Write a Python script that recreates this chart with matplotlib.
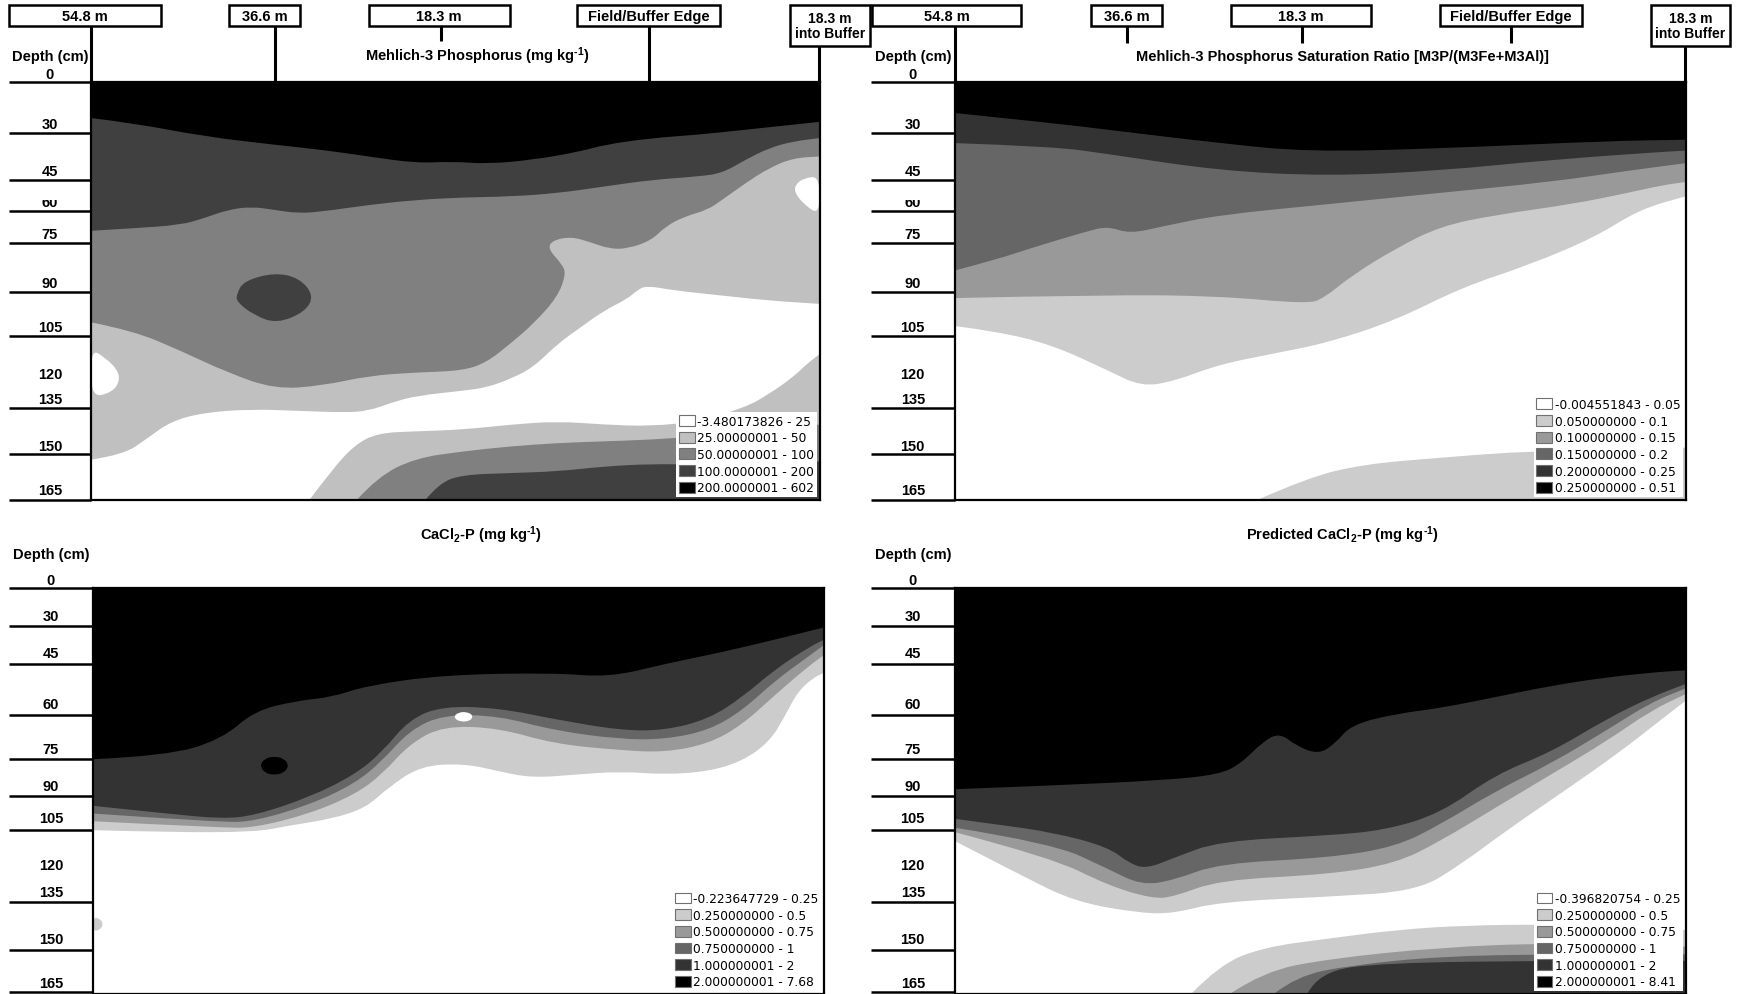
import matplotlib
matplotlib.use('Agg')
import matplotlib.pyplot as plt
from matplotlib.patches import Patch, Rectangle, PathPatch
from matplotlib.path import Path
from matplotlib.transforms import Bbox, TransformedBbox

plt.rcParams['font.family'] = ['Liberation Sans', 'DejaVu Sans']
plt.rcParams['mathtext.fontset'] = 'custom'
plt.rcParams['mathtext.rm'] = 'Liberation Sans:bold'
plt.rcParams['mathtext.default'] = 'rm'

# ---- labels ----
STATIONS = ['54.8 m', '36.6 m', '18.3 m', 'Field/Buffer Edge', '18.3 m\ninto Buffer']
DEPTHS = ['0', '30', '45', '60', '75', '90', '105', '120', '135', '150', '165']

TITLES = ['Mehlich-3 Phosphorus (mg kg$^{\\text{-}1}$)',
          'Mehlich-3 Phosphorus Saturation Ratio [M3P/(M3Fe+M3Al)]',
          'CaCl$_2$-P (mg kg$^{\\text{-}1}$)',
          'Predicted CaCl$_2$-P (mg kg$^{\\text{-}1}$)']

M3P_CLASSES = ['-3.480173826 - 25', '25.00000001 - 50', '50.00000001 - 100',
               '100.0000001 - 200', '200.0000001 - 602']
PSR_CLASSES = ['-0.004551843 - 0.05', '0.050000000 - 0.1', '0.100000000 - 0.15',
               '0.150000000 - 0.2', '0.200000000 - 0.25', '0.250000000 - 0.51']
CACL_CLASSES = ['-0.223647729 - 0.25', '0.250000000 - 0.5', '0.500000000 - 0.75',
                '0.750000000 - 1', '1.000000001 - 2', '2.000000001 - 7.68']
PRED_CLASSES = ['-0.396820754 - 0.25', '0.250000000 - 0.5', '0.500000000 - 0.75',
                '0.750000000 - 1', '1.000000001 - 2', '2.000000001 - 8.41']

GRAY5 = ['#ffffff', '#c0c0c0', '#808080', '#404040', '#000000']
GRAY6 = ['#ffffff', '#cccccc', '#999999', '#666666', '#333333', '#000000']

# ---- class boundaries (x: % along transect, y: % of profile depth) ----
# Mehlich-3 P
M3P_LIGHT = [(0, 90.4), (4.5, 89.2), (7.8, 85.2), (11.0, 81.2), (15.5, 79.1), (22.0, 78.3),
             (28.4, 78.7), (34.9, 79.1), (38.1, 78.7), (41.3, 76.7), (44.6, 75.1), (51.0, 73.9),
             (54.3, 73.1), (57.5, 71.1), (60.7, 68.3), (64.0, 62.7), (67.2, 58.7), (70.4, 54.7),
             (73.6, 51.9), (74.9, 49.9), (76.2, 48.7), (80.1, 49.9), (86.6, 51.1), (93.0, 52.3),
             (100, 53.1)]
M3P_MED = [(0, 57.5), (5.8, 59.5), (12.3, 64.3), (18.7, 69.5), (25.2, 73.5), (31.7, 72.7),
           (38.1, 70.3), (44.6, 69.5), (51.0, 69.1), (54.3, 67.1), (57.5, 62.7), (60.7, 57.9),
           (64.0, 51.5), (65.2, 45.9), (64.6, 43.5), (62.7, 39.9), (63.3, 37.9), (65.9, 37.0),
           (68.5, 38.3), (71.1, 39.9), (73.6, 39.9), (76.9, 37.9), (78.8, 34.6), (81.4, 32.2),
           (84.6, 30.6), (86.6, 28.2), (89.8, 24.2), (93.0, 20.6), (96.3, 18.2), (100, 17.8)]
M3P_DARK = [(0, 35.6), (5.8, 35.0), (12.3, 34.2), (15.5, 32.6), (18.7, 30.6), (22.0, 29.8),
            (25.2, 30.6), (28.4, 31.4), (31.7, 31.0), (38.1, 29.4), (44.6, 28.2), (51.0, 27.6),
            (57.5, 27.4), (64.0, 26.6), (70.4, 25.0), (76.9, 23.4), (83.3, 22.6), (86.6, 21.8),
            (89.8, 18.6), (93.0, 15.8), (96.3, 14.2), (100, 13.4)]
M3P_BLACK = [(0, 8.6), (5.8, 9.8), (15.5, 13.0), (25.2, 15.0), (31.7, 16.2), (38.1, 17.8),
             (44.6, 19.4), (49.7, 19.0), (54.3, 19.6), (60.7, 18.6), (67.2, 16.6), (70.4, 15.0),
             (76.9, 13.4), (83.3, 12.6), (89.8, 11.4), (96.3, 10.2), (100, 9.5)]
M3P_DARK_SPOT = [(20.0, 50.7), (21.0, 47.6), (25.2, 45.6), (28.6, 46.9), (30.6, 51.1),
                 (29.4, 55.0), (25.5, 57.8), (22.4, 55.8), (20.0, 52.6)]
M3P_WHITE_LEFT = [(0, 63.9), (1.9, 65.9), (3.6, 68.7), (4.0, 71.5), (2.9, 74.3), (0, 75.5)]
M3P_WHITE_RIGHT = [(100, 22.6), (97.9, 22.9), (96.6, 24.6), (96.6, 26.6), (97.9, 29.4), (100, 31.8)]
M3P_DEEP_LIGHT = [(30.0, 100), (32.9, 93.2), (36.2, 86.8), (39.4, 84.0), (44.6, 83.6), (51.0, 83.2),
                  (57.5, 82.0), (64.0, 81.2), (70.4, 82.0), (76.9, 82.4), (83.3, 81.2), (89.8, 77.9),
                  (93.0, 74.7), (96.3, 70.7), (98.2, 67.5), (100, 65.1)]
M3P_DEEP_MED = [(36.5, 100), (39.4, 94.4), (44.6, 90.0), (51.0, 88.4), (57.5, 87.2), (64.0, 86.4),
                (70.4, 86.0), (76.9, 85.6), (83.3, 84.8), (89.8, 83.6), (100, 82.0)]
M3P_DEEP_DARK = [(45.9, 100), (47.8, 96.0), (51.0, 94.0), (57.5, 93.6), (64.0, 93.2), (70.4, 92.0),
                 (76.9, 91.4), (83.3, 91.6), (100, 90.8)]

# P saturation ratio
PSR_1 = [(0, 58.4), (5.8, 59.7), (13.3, 62.9), (20.9, 69.0), (25.5, 72.9), (30.0, 71.6), (36.1, 67.6),
         (43.6, 65.0), (51.2, 62.3), (60.3, 57.0), (69.4, 49.1), (78.5, 43.8), (87.6, 37.1),
         (93.6, 30.5), (100, 27.3)]
PSR_2 = [(0, 51.7), (20.9, 50.9), (36.1, 51.2), (48.2, 53.1), (50.5, 51.7), (54.2, 46.4), (60.3, 39.8),
         (66.4, 34.5), (73.9, 31.8), (84.5, 29.2), (92.1, 26.5), (96.7, 24.7), (100, 23.9)]
PSR_3 = [(0, 45.1), (5.8, 42.4), (10.3, 39.8), (17.9, 35.8), (20.9, 34.5), (23.9, 36.3), (28.5, 34.5),
         (36.1, 31.8), (51.2, 29.2), (66.4, 26.5), (81.5, 23.9), (92.1, 21.2), (100, 19.4)]
PSR_4 = [(0, 14.6), (13.3, 15.4), (20.9, 17.2), (36.1, 21.2), (51.2, 22.5), (66.4, 21.2), (81.5, 18.6),
         (96.7, 16.7), (100, 16.4)]
PSR_5 = [(0, 7.4), (13.3, 9.8), (20.9, 11.4), (36.1, 14.6), (48.2, 16.7), (66.4, 15.9), (89.1, 14.1),
         (100, 13.8)]
PSR_DEEP_1 = [(41.4, 100), (48.2, 94.7), (55.8, 91.5), (66.4, 89.9), (78.5, 88.3), (100, 87.5)]

# CaCl2-P
CACL_1 = [(0, 59.6), (10.0, 60.1), (22.1, 60.1), (26.7, 58.5), (32.7, 56.8), (37.3, 54.1), (40.3, 49.2),
          (44.8, 43.7), (50.9, 43.2), (55.5, 45.1), (60.0, 46.7), (66.1, 45.9), (72.1, 45.1),
          (78.2, 45.9), (84.2, 45.1), (88.8, 42.6), (92.6, 37.7), (94.8, 30.9), (96.4, 25.4),
          (98.6, 21.9), (100, 20.8)]
CACL_2 = [(0, 57.4), (17.6, 59.0), (22.1, 59.0), (29.7, 55.5), (35.8, 50.8), (39.5, 45.9), (43.3, 38.3),
          (47.9, 33.9), (55.5, 34.4), (63.0, 38.3), (72.1, 39.9), (78.2, 40.4), (84.2, 38.3),
          (88.8, 33.6), (93.3, 26.2), (97.9, 19.1), (100, 16.4)]
CACL_3 = [(0, 55.5), (17.6, 57.7), (22.1, 57.4), (29.7, 53.3), (35.8, 48.1), (39.5, 42.6), (43.3, 35.0),
          (47.9, 31.1), (55.5, 31.4), (63.0, 35.0), (72.1, 37.2), (78.2, 37.2), (84.2, 35.0),
          (88.8, 30.1), (93.3, 22.7), (97.9, 16.7), (100, 13.9)]
CACL_4 = [(0, 53.6), (10.0, 55.5), (17.6, 56.8), (22.1, 56.0), (29.7, 51.4), (35.8, 45.9), (39.5, 40.4),
          (43.3, 32.2), (47.9, 29.0), (55.5, 29.5), (63.0, 32.2), (72.1, 35.0), (78.2, 35.0),
          (84.2, 32.2), (88.8, 26.8), (93.3, 19.9), (97.9, 14.5), (100, 12.6)]
CACL_5 = [(0, 42.1), (10.0, 41.3), (17.6, 37.2), (22.1, 30.1), (28.2, 27.6), (32.7, 26.8), (37.3, 24.0),
          (47.9, 21.3), (63.0, 20.8), (70.6, 21.9), (78.2, 18.6), (85.8, 15.8), (93.3, 12.6), (100, 9.6)]
CACL_BLACK_SPOT = [(22.8, 43.7), (23.5, 41.9), (24.8, 41.4), (26.1, 41.9), (26.8, 43.7), (26.1, 45.5),
                   (24.8, 46.0), (23.5, 45.5)]
CACL_WHITE_SPOT = [(49.3, 31.7), (49.9, 30.6), (51.1, 30.4), (52.0, 31.3), (51.6, 32.7), (50.1, 32.9)]
CACL_EDGE_SPOT = [(0, 81.0), (1.0, 81.5), (1.4, 82.8), (1.0, 84.1), (0, 84.6)]

# Predicted CaCl2-P
PRED_1 = [(0, 62.3), (8.8, 70.5), (16.4, 77.3), (25.5, 80.1), (30.0, 80.1), (36.1, 77.3), (51.2, 76.0),
          (63.3, 74.6), (69.4, 67.8), (75.5, 59.6), (83.3, 50.0), (90.9, 40.4), (96.7, 32.2), (100, 27.6)]
PRED_2 = [(0, 60.1), (13.3, 66.4), (20.9, 73.2), (27.0, 76.5), (30.0, 76.0), (36.1, 71.9), (51.2, 70.5),
          (60.3, 67.8), (66.4, 62.3), (73.9, 54.1), (81.5, 45.9), (89.1, 37.7), (95.2, 30.1), (100, 26.0)]
PRED_3 = [(0, 59.0), (13.3, 62.8), (20.9, 69.1), (25.5, 73.2), (30.0, 71.9), (36.1, 67.8), (51.2, 66.4),
          (60.3, 63.7), (66.4, 58.2), (73.9, 50.0), (81.5, 43.2), (89.1, 35.0), (95.2, 28.1), (100, 24.6)]
PRED_4 = [(0, 56.8), (5.8, 58.2), (13.3, 60.1), (20.9, 63.7), (23.9, 67.8), (26.2, 69.1), (30.0, 66.4),
          (36.1, 62.3), (51.2, 60.9), (58.8, 59.6), (66.4, 55.5), (73.9, 45.9), (81.5, 40.4),
          (89.1, 32.2), (95.2, 26.8), (100, 23.5)]
PRED_5 = [(0, 49.5), (13.3, 48.6), (28.5, 47.3), (36.1, 45.9), (39.1, 43.2), (42.1, 37.8), (44.4, 35.6),
          (46.7, 38.8), (49.7, 40.9), (52.0, 38.3), (54.2, 33.6), (60.3, 30.9), (66.4, 29.5),
          (73.9, 26.8), (81.5, 24.0), (89.1, 21.9), (96.7, 20.5), (100, 20.2)]
PRED_DEEP_1 = [(32.3, 100), (36.1, 92.9), (42.1, 88.5), (51.2, 86.3), (60.3, 84.2), (69.4, 83.1),
               (81.5, 82.8), (100, 84.2)]
PRED_DEEP_2 = [(37.6, 100), (42.1, 94.5), (51.2, 91.3), (66.4, 88.5), (81.5, 87.4), (100, 88.3)]
PRED_DEEP_3 = [(43.6, 100), (46.7, 95.6), (54.2, 92.9), (66.4, 90.7), (81.5, 90.2), (100, 90.2)]
PRED_DEEP_4 = [(48.2, 100), (49.7, 94.5), (58.8, 92.3), (81.5, 91.8), (100, 91.8)]

# ---- layout (reference pixels, 1568 x 898 frame) ----
W, H = 1568, 898
PANELS = [(82, 75, 740, 452), (862, 75, 1522, 452), (84, 532, 744, 898), (862, 532, 1522, 898)]
TOP_LINES = [75, 121, 163, 191, 220, 264, 304, None, 369, 411, 452]
TOP_LABELS = [68, 113, 155, 183, 212, 256, 296, 338, 361, 403, 443]
BOT_LINES = [532, 566, 600, 646, 686, 719, 750, None, 815, 858, 896]
BOT_LABELS = [524, 557, 590, 636, 677, 710, 739, 782, 806, 848, 888]
# (box left, box right, line x, line bottom) for each station
HEAD_1 = [(8, 145, 82, 75), (207, 271, 248, 75), (333, 460, 398, 38), (521, 650, 586, 75), (713, 785, 739, 75)]
HEAD_2 = [(787, 922, 862, 75), (985, 1049, 1017, 40), (1111, 1238, 1175, 40), (1300, 1428, 1364, 40),
          (1490, 1562, 1521, 75)]


def mid(p, q):
    return ((p[0] + q[0]) / 2, (p[1] + q[1]) / 2)


def curve(pts):
    # smooth open curve through the read points (quadratic bezier between midpoints)
    verts = [pts[0]]
    codes = [Path.LINETO]
    for i in range(1, len(pts) - 1):
        verts += [pts[i], mid(pts[i], pts[i + 1])]
        codes += [Path.CURVE3, Path.CURVE3]
    verts.append(pts[-1])
    codes.append(Path.LINETO)
    return verts, codes


def region(ax, pts, color, edge_y, z):
    v, c = curve(pts)
    verts = [(pts[0][0], edge_y)] + v + [(pts[-1][0], edge_y), (pts[0][0], edge_y)]
    codes = [Path.MOVETO] + c + [Path.LINETO, Path.CLOSEPOLY]
    ax.add_patch(PathPatch(Path(verts, codes), facecolor=color, lw=0, zorder=z))


def from_top(ax, pts, color):
    region(ax, pts, color, 0, 2)


def from_bottom(ax, pts, color):
    region(ax, pts, color, 100, 3)


def spot(ax, pts, color):
    n = len(pts)
    m = [mid(pts[i], pts[(i + 1) % n]) for i in range(n)]
    verts = [m[-1]]
    codes = [Path.MOVETO]
    for i in range(n):
        verts += [pts[i], m[i]]
        codes += [Path.CURVE3, Path.CURVE3]
    verts.append(m[-1])
    codes.append(Path.CLOSEPOLY)
    ax.add_patch(PathPatch(Path(verts, codes), facecolor=color, lw=0, zorder=3))


fig = plt.figure(figsize=(17.37, 9.95), dpi=100)
axes = []
for (l, t, r, b) in PANELS:
    ax = fig.add_axes([l / W, 1 - b / H, (r - l) / W, (b - t) / H])
    ax.set_xlim(0, 100)
    ax.set_ylim(100, 0)
    ax.set_xticks([])
    ax.set_yticks([])
    for s in ax.spines.values():
        s.set_linewidth(1.6)
        s.set_zorder(12)
    axes.append(ax)

a1, a2, a3, a4 = axes

# panel 1
from_top(a1, M3P_LIGHT, GRAY5[1])
from_top(a1, M3P_MED, GRAY5[2])
from_top(a1, M3P_DARK, GRAY5[3])
from_top(a1, M3P_BLACK, GRAY5[4])
spot(a1, M3P_DARK_SPOT, GRAY5[3])
spot(a1, M3P_WHITE_LEFT, GRAY5[0])
spot(a1, M3P_WHITE_RIGHT, GRAY5[0])
from_bottom(a1, M3P_DEEP_LIGHT, GRAY5[1])
from_bottom(a1, M3P_DEEP_MED, GRAY5[2])
from_bottom(a1, M3P_DEEP_DARK, GRAY5[3])

# panel 2
for pts, c in zip([PSR_1, PSR_2, PSR_3, PSR_4, PSR_5], GRAY6[1:]):
    from_top(a2, pts, c)
from_bottom(a2, PSR_DEEP_1, GRAY6[1])

# panel 3
for pts, c in zip([CACL_1, CACL_2, CACL_3, CACL_4, CACL_5], GRAY6[1:]):
    from_top(a3, pts, c)
spot(a3, CACL_BLACK_SPOT, GRAY6[5])
spot(a3, CACL_WHITE_SPOT, GRAY6[0])
spot(a3, CACL_EDGE_SPOT, GRAY6[1])

# panel 4
for pts, c in zip([PRED_1, PRED_2, PRED_3, PRED_4, PRED_5], GRAY6[1:]):
    from_top(a4, pts, c)
for pts, c in zip([PRED_DEEP_1, PRED_DEEP_2, PRED_DEEP_3, PRED_DEEP_4], GRAY6[1:5]):
    from_bottom(a4, pts, c)

# legends
for ax, classes, colors in [(a1, M3P_CLASSES, GRAY5), (a2, PSR_CLASSES, GRAY6),
                            (a3, CACL_CLASSES, GRAY6), (a4, PRED_CLASSES, GRAY6)]:
    handles = [Patch(facecolor=c, edgecolor='#707070', lw=0.8) for c in colors]
    leg = ax.legend(handles, classes, loc='lower right', prop={'family': 'DejaVu Sans', 'size': 8.8},
                    frameon=True, fancybox=False, framealpha=1, edgecolor='white',
                    borderpad=0.2, labelspacing=0.3, handlelength=1.3, handleheight=1.0,
                    handletextpad=0.2, borderaxespad=0.25)
    leg.set_zorder(10)
    leg.get_frame().set_linewidth(0)

# overlay for header, depth scale and titles
ov = fig.add_axes([0, 0, 1, 1])
ov.set_xlim(0, W)
ov.set_ylim(H, 0)
ov.axis('off')
ov.patch.set_alpha(0)

bold = dict(fontweight='bold', ha='center', va='center', color='black')

for head in (HEAD_1, HEAD_2):
    for label, (bl, br, lx, lb) in zip(STATIONS, head):
        bb = 42 if '\n' in label else 24
        ov.add_patch(Rectangle((bl, 5), br - bl, bb - 5, fill=False, lw=1.8, ec='black'))
        ov.plot([lx, lx], [bb, lb], color='black', lw=2.2, solid_capstyle='butt')
        ov.text((bl + br) / 2, (5 + bb) / 2 + 0.5, label, linespacing=1.05,
                fontsize=10 if '\n' in label else 10.5, **bold)

for (l, t, r, b), lines, labs, title in zip(PANELS, [TOP_LINES, TOP_LINES, BOT_LINES, BOT_LINES],
                                            [TOP_LABELS, TOP_LABELS, BOT_LABELS, BOT_LABELS], TITLES):
    xl = l - 76 if l > 400 else 8
    xc = (xl + l) / 2
    for d, ly, ty in zip(DEPTHS, lines, labs):
        if ly is not None:
            ov.plot([xl, l], [ly, ly], color='black', lw=1.8, solid_capstyle='butt')
        txt = ov.text(xc, ty, d, fontsize=10.5, **bold)
        if d == '60' and t < 100:
            # the upper part of this label is hidden in the original figure
            txt.set_clip_box(TransformedBbox(Bbox([[xl, ty - 2], [l, ty + 10]]), ov.transData))
            txt.set_clip_on(True)
    ov.text(xc, 51 if t < 100 else 501, 'Depth (cm)', fontsize=10.5, **bold)
    ov.text((l + r) / 2 + 20, 51 if t < 100 else 483, title, fontsize=10.5, **bold)

fig.savefig('out.png', dpi=100)
